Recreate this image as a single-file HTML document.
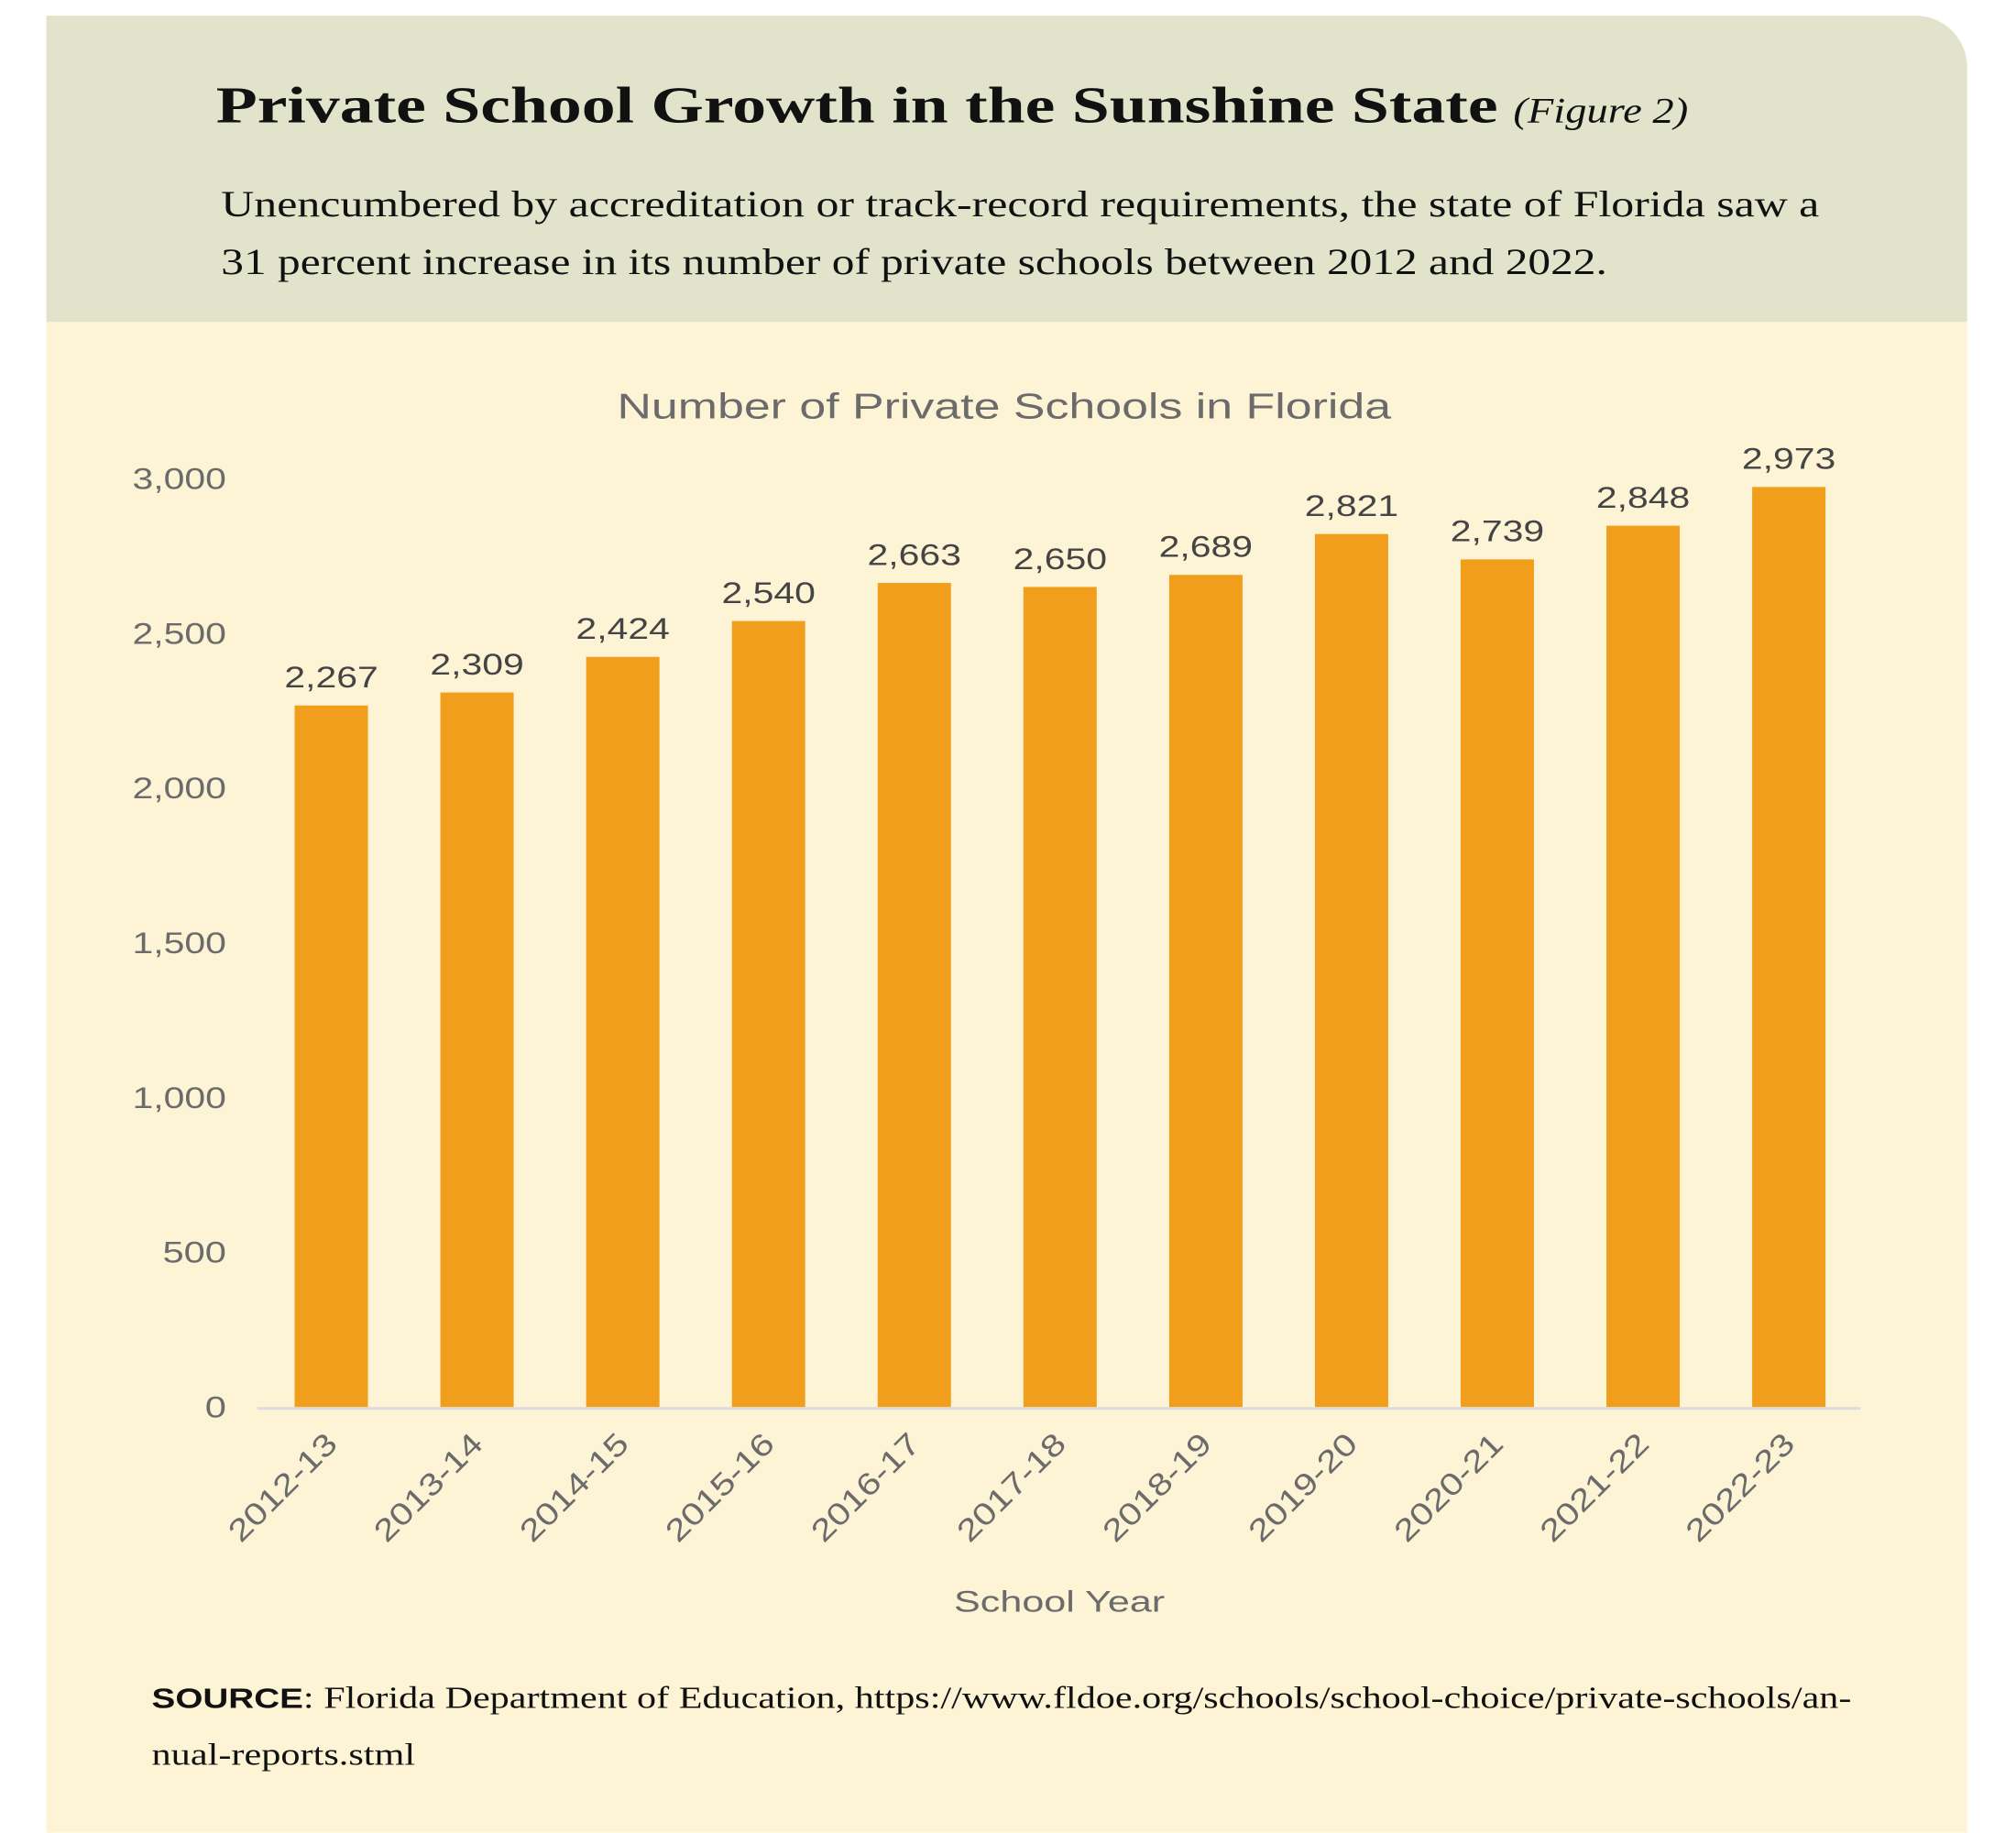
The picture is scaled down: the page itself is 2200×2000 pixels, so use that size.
<!DOCTYPE html>
<html><head><meta charset="utf-8">
<style>
html,body{margin:0;padding:0;background:#fff;}
svg{display:block;}
</style></head>
<body>
<svg id="chart" width="2200" height="2000" viewBox="0 0 1568 1425" xmlns="http://www.w3.org/2000/svg">
  <path d="M36,12 H1490 A40,40 0 0 1 1530,52 V1425 H36 Z" fill="#fdf3d5"/>
  <path d="M36,12 H1490 A40,40 0 0 1 1530,52 V250 H36 Z" fill="#e1e4ca"/>
  <text x="168" y="95" textLength="997" lengthAdjust="spacingAndGlyphs" font-family="Liberation Serif, serif" font-weight="bold" font-size="40" fill="#111">Private School Growth in the Sunshine State</text>
  <text x="1177" y="95" textLength="136" lengthAdjust="spacingAndGlyphs" font-family="Liberation Serif, serif" font-style="italic" font-size="28" fill="#111">(Figure 2)</text>
  <text x="172" y="168" textLength="1243" lengthAdjust="spacingAndGlyphs" font-family="Liberation Serif, serif" font-size="29" fill="#111">Unencumbered by accreditation or track-record requirements, the state of Florida saw a</text>
  <text x="172" y="213" textLength="1078" lengthAdjust="spacingAndGlyphs" font-family="Liberation Serif, serif" font-size="29" fill="#111">31 percent increase in its number of private schools between 2012 and 2022.</text>
  <text x="480" y="325" textLength="602" lengthAdjust="spacingAndGlyphs" font-family="Liberation Sans, sans-serif" font-size="28" fill="#6b6b6b">Number of Private Schools in Florida</text>
  <g id="plot"></g>
  <text x="742" y="1253" textLength="164" lengthAdjust="spacingAndGlyphs" font-family="Liberation Sans, sans-serif" font-size="23" fill="#6b6b6b">School Year</text>
  <text x="118" y="1328" textLength="1322" lengthAdjust="spacingAndGlyphs" font-family="Liberation Serif, serif" font-size="24" fill="#111"><tspan font-family="Liberation Sans, sans-serif" font-weight="bold" font-size="22">SOURCE</tspan>: Florida Department of Education, https://www.fldoe.org/schools/school-choice/private-schools/an-</text>
  <text x="118" y="1372" textLength="205" lengthAdjust="spacingAndGlyphs" font-family="Liberation Serif, serif" font-size="24" fill="#111">nual-reports.stml</text>
</svg>
<script>
const categories = ["2012-13","2013-14","2014-15","2015-16","2016-17","2017-18","2018-19","2019-20","2020-21","2021-22","2022-23"];
const values = [2267,2309,2424,2540,2663,2650,2689,2821,2739,2848,2973];
const yTicks = [0,500,1000,1500,2000,2500,3000];

const NS = "http://www.w3.org/2000/svg";
const plot = document.getElementById("plot");
const x0 = 200, x1 = 1447, yBase = 1094, yTop = 372, yMax = 3000;
const band = (x1 - x0) / categories.length;
const barW = 57;
function yScale(v){ return yBase - (v / yMax) * (yBase - yTop); }
function xCenter(i){ return x0 + band * (i + 0.5) + 1; }
function mk(tag, attrs){ const e = document.createElementNS(NS, tag); for (const k in attrs) e.setAttribute(k, attrs[k]); return e; }
function fmt(v){ return v.toLocaleString("en-US"); }
function numLen(s){ let d = 0, c = 0; for (const ch of s) { if (ch === ",") c++; else d++; } return d * 16.5 + c * 7; }

yTicks.forEach(t => {
  const s = fmt(t);
  const tx = mk("text", {x: 176, y: yScale(t) + 8, "text-anchor": "end", textLength: numLen(s), lengthAdjust: "spacingAndGlyphs", "font-family": "Liberation Sans, sans-serif", "font-size": "23", fill: "#6b6b6b"});
  
  
  tx.textContent = s;
  plot.appendChild(tx);
});

categories.forEach((c, i) => {
  const cx = xCenter(i);
  const yv = yScale(values[i]);
  const r = mk("rect", {x: cx - barW/2, y: yv, width: barW, height: yBase - yv, fill: "#f09e1c"});
  
  
  plot.appendChild(r);
  const s = fmt(values[i]);
  const lbl = mk("text", {x: cx, y: yv - 14, "text-anchor": "middle", textLength: numLen(s), lengthAdjust: "spacingAndGlyphs", "font-family": "Liberation Sans, sans-serif", "font-size": "23", fill: "#444"});
  
  
  lbl.textContent = s;
  plot.appendChild(lbl);
  const xl = mk("text", {x: 0, y: 0, "text-anchor": "end", textLength: 108, lengthAdjust: "spacingAndGlyphs", "font-family": "Liberation Sans, sans-serif", "font-size": "24", fill: "#6b6b6b", transform: "translate(" + (cx + 6) + "," + 1124 + ") rotate(-45)"});
  
  
  xl.textContent = c;
  plot.appendChild(xl);
});

const axis = mk("line", {x1: x0, x2: x1, y1: yBase + 1, y2: yBase + 1, stroke: "#dcdcdc", "stroke-width": "2"});


plot.appendChild(axis);
</script>
</body></html>
